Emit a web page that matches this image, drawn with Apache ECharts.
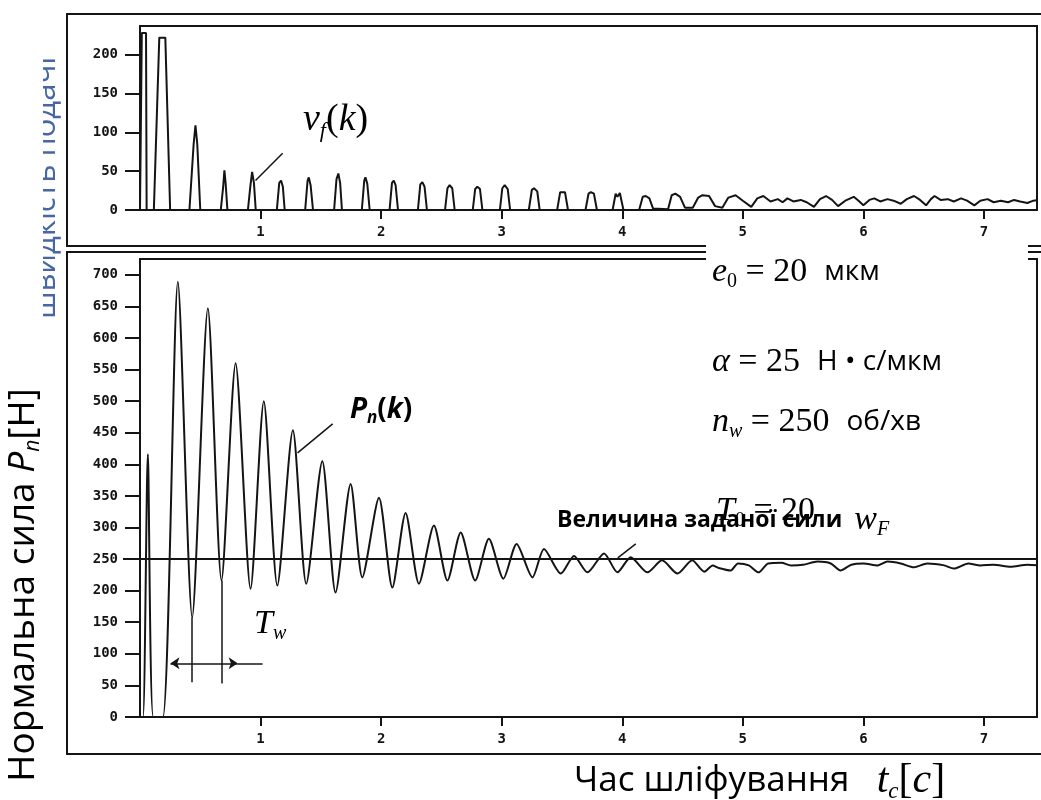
<!doctype html>
<html>
<head>
<meta charset="UTF-8">
<title>Нормальна сила та швидкість подачі</title>
<style>
html, body { margin: 0; padding: 0; background: #fff; }
#chart { width: 1041px; height: 800px; }
</style>
</head>
<body>
<div id="chart"></div>
<script src="https://cdn.jsdelivr.net/npm/echarts@6/dist/echarts.min.js"></script>
<script>
// час [c], швидкість подачі v_f(k)
var feedPoints = [
	[0, 0], [0.01, 0], [0.015, 228], [0.05, 228], [0.055, 0],
	[0.115, 0], [0.16, 222], [0.21, 222], [0.25, 0],
	[0.41, 0], [0.445, 85], [0.46, 109], [0.475, 85], [0.5, 0],
	[0.67, 0], [0.69, 30], [0.7, 51], [0.71, 35], [0.725, 0],
	[0.895, 0], [0.915, 30], [0.93, 49], [0.945, 35], [0.96, 0],
	[1.135, 0], [1.155, 35], [1.17, 38], [1.185, 30], [1.2, 0],
	[1.37, 0], [1.39, 38], [1.4, 42], [1.415, 32], [1.435, 0],
	[1.61, 0], [1.63, 40], [1.645, 47], [1.66, 35], [1.675, 0],
	[1.84, 0], [1.86, 38], [1.87, 42], [1.885, 34], [1.905, 0],
	[2.07, 0], [2.09, 35], [2.105, 38], [2.12, 32], [2.14, 0],
	[2.305, 0], [2.325, 33], [2.342, 36], [2.36, 30], [2.38, 0],
	[2.53, 0], [2.55, 28], [2.568, 32], [2.59, 28], [2.61, 0],
	[2.76, 0], [2.78, 27], [2.798, 30], [2.82, 27], [2.84, 0],
	[2.985, 0], [3.005, 28], [3.025, 32], [3.05, 27], [3.07, 0],
	[3.225, 0], [3.25, 26], [3.268, 28], [3.295, 24], [3.315, 0],
	[3.46, 0], [3.485, 23], [3.525, 23], [3.55, 0],
	[3.695, 0], [3.72, 21], [3.74, 23], [3.765, 21], [3.79, 0],
	[3.92, 0], [3.945, 21], [3.96, 17], [3.98, 22], [4.01, 0],
	[4.14, 0], [4.17, 17], [4.195, 18], [4.225, 15], [4.255, 2],
	[4.38, 1], [4.41, 19], [4.44, 21], [4.48, 17], [4.52, 3],
	[4.585, 3], [4.63, 16], [4.665, 19], [4.72, 18], [4.77, 5], [4.83, 3],
	[4.88, 16], [4.94, 19], [5.0, 12], [5.07, 4], [5.12, 15], [5.17, 18],
	[5.23, 11], [5.29, 14], [5.33, 10], [5.37, 15], [5.42, 11], [5.48, 13],
	[5.53, 10], [5.59, 4], [5.64, 14], [5.69, 18], [5.74, 13], [5.79, 5],
	[5.85, 12], [5.92, 17], [5.96, 12], [6.0, 6], [6.05, 13], [6.09, 15],
	[6.14, 11], [6.2, 14], [6.25, 12], [6.31, 8], [6.36, 14], [6.42, 18],
	[6.47, 13], [6.52, 6], [6.56, 14], [6.59, 18], [6.64, 13], [6.7, 14],
	[6.75, 11], [6.81, 15], [6.86, 12], [6.92, 6], [6.97, 12], [7.03, 14],
	[7.08, 10], [7.14, 12], [7.2, 10], [7.25, 13], [7.3, 11], [7.36, 9],
	[7.41, 12], [7.46, 13]
];

// час [c], нормальна сила P_n(k) [Н]
var forcePoints = [
	[0, 0], [0.025, 0], [0.065, 416], [0.11, 0], [0.19, 0],
	[0.314, 689], [0.433, 158], [0.563, 647], [0.676, 216],
	[0.793, 560], [0.917, 203], [1.027, 500], [1.139, 208],
	[1.268, 454], [1.379, 211], [1.512, 405], [1.622, 197],
	[1.747, 369], [1.844, 221], [1.982, 347], [2.093, 205],
	[2.203, 323], [2.314, 211], [2.438, 303], [2.55, 216],
	[2.66, 292], [2.78, 216], [2.894, 282], [3.014, 219],
	[3.124, 274], [3.255, 221], [3.351, 266], [3.49, 227],
	[3.6, 255], [3.711, 229], [3.849, 259], [3.96, 229],
	[4.07, 253], [4.209, 229], [4.33, 248], [4.458, 227],
	[4.58, 248], [4.68, 230], [4.75, 240], [4.8, 236], [4.9, 232],
	[4.96, 243], [5.05, 240], [5.13, 229], [5.21, 243], [5.32, 244],
	[5.4, 240], [5.5, 241], [5.62, 246], [5.73, 243], [5.81, 232],
	[5.9, 241], [6.0, 243], [6.12, 240], [6.2, 246], [6.31, 243],
	[6.42, 237], [6.53, 243], [6.67, 240], [6.75, 235], [6.87, 243],
	[6.97, 240], [7.08, 241], [7.22, 238], [7.36, 241], [7.46, 240]
];

var setForce = 250;   // величина заданої сили w_F
var feedMax = 237;
var forceMax = 725;
var timeMax = 7.44;

var ink = '#141414';
var tickFont = { color: ink, fontFamily: 'DejaVu Sans Mono', fontWeight: 'bold', fontSize: 14 };
var serif = 'Liberation Serif';
var sans = '"Open Sans", "Noto Sans", sans-serif';

function xAxisFor(gridIndex) {
	return {
		type: 'value', gridIndex: gridIndex, min: 0, max: timeMax, interval: 1,
		axisLine: { lineStyle: { color: ink, width: 2 } },
		axisTick: { length: 9, lineStyle: { color: ink, width: 2 } },
		axisLabel: Object.assign({ margin: 15, showMinLabel: false, showMaxLabel: false }, tickFont),
		splitLine: { show: false }
	};
}

function yAxisFor(gridIndex, max) {
	return {
		type: 'value', gridIndex: gridIndex, min: 0, max: max, interval: 50,
		axisLine: { show: true, lineStyle: { color: ink, width: 2 } },
		axisTick: { show: true, length: 15, lineStyle: { color: ink, width: 2 } },
		axisLabel: Object.assign({ margin: 22, showMaxLabel: false }, tickFont),
		splitLine: { show: false }
	};
}

function pointer(a, b) {
	return [{ coord: a }, { coord: b }];
}

// розмітка формул: курсив, прямий, індекси, одиниці
function mathRich(size, unitSize) {
	var sub = Math.round(size * 0.58);
	return {
		i: { fontFamily: serif, fontStyle: 'italic', fontSize: size, lineHeight: size + 6, color: ink },
		m: { fontFamily: serif, fontSize: size, lineHeight: size + 6, color: ink },
		s: { fontFamily: serif, fontStyle: 'italic', fontSize: sub, lineHeight: sub, verticalAlign: 'bottom', color: ink },
		n: { fontFamily: serif, fontSize: sub, lineHeight: sub, verticalAlign: 'bottom', color: ink },
		u: { fontFamily: sans, fontSize: unitSize, lineHeight: size + 6, color: ink },
		b: { fontFamily: sans, fontWeight: 'bold', fontSize: unitSize, lineHeight: size + 6, color: ink }
	};
}

function label(x, y, text, rich, z) {
	return {
		type: 'text', x: x, y: y, z: z || 120,
		style: { text: text, rich: rich, verticalAlign: 'middle', align: 'left' }
	};
}

var paramRich = mathRich(34, 28);

var option = {
	animation: false,
	backgroundColor: '#fff',
	grid: [
		{ left: 140, right: 4, top: 26, height: 184, show: true, borderColor: ink, borderWidth: 2 },
		{ left: 140, right: 4, top: 259, height: 458, show: true, borderColor: ink, borderWidth: 2 }
	],
	xAxis: [xAxisFor(0), xAxisFor(1)],
	yAxis: [yAxisFor(0, feedMax), yAxisFor(1, forceMax)],
	series: [{
		name: 'v_f(k)',
		type: 'line',
		xAxisIndex: 0,
		yAxisIndex: 0,
		showSymbol: false,
		data: feedPoints,
		lineStyle: { color: ink, width: 2 },
		markLine: {
			silent: true, symbol: 'none', label: { show: false },
			lineStyle: { color: ink, width: 1.5, type: 'solid' },
			data: [pointer([0.958, 38], [1.183, 73])]
		}
	}, {
		name: 'P_n(k)',
		type: 'line',
		xAxisIndex: 1,
		yAxisIndex: 1,
		showSymbol: false,
		smooth: 0.25,
		data: forcePoints,
		lineStyle: { color: ink, width: 2 },
		markLine: {
			silent: true, symbol: 'none', label: { show: false },
			lineStyle: { color: ink, width: 1.5, type: 'solid' },
			data: [
				[{ yAxis: setForce, x: 123, lineStyle: { width: 2 } }, { yAxis: setForce, x: 1037 }],
				pointer([1.307, 418], [1.598, 464]),
				pointer([3.963, 252], [4.112, 274]),
				pointer([0.433, 158], [0.433, 55]),
				pointer([0.676, 216], [0.676, 53]),
				[{ coord: [0.253, 85], symbol: 'arrow', symbolSize: 9 }, { coord: [0.81, 85], symbol: 'arrow', symbolSize: 9 }],
				pointer([0.81, 85], [1.017, 85])
			]
		}
	}],
	graphic: [
		// зовнішні рамки
		{ type: 'rect', z: 40, shape: { x: 67, y: 14, width: 1000, height: 232 }, style: { fill: 'none', stroke: ink, lineWidth: 2 } },
		{ type: 'rect', z: 40, shape: { x: 67, y: 252, width: 1000, height: 502 }, style: { fill: 'none', stroke: ink, lineWidth: 2 } },
		// білі вставки
		{ type: 'rect', z: 100, shape: { x: 706, y: 237, width: 322, height: 238 }, style: { fill: '#fff' } },
		{ type: 'rect', z: 100, shape: { x: 230, y: 590, width: 77, height: 67 }, style: { fill: '#fff' } },
		// обрізаний синій підпис
		{ type: 'text', z: 90, x: 46, y: 188, rotation: Math.PI / 2,
			style: { text: 'швидкість подачі', fill: '#4767a3', fontFamily: sans, fontSize: 31, align: 'center', verticalAlign: 'middle' } },
		{ type: 'rect', z: 95, shape: { x: 0, y: 30, width: 43, height: 320 }, style: { fill: '#fff' } },
		// підписи кривих
		label(303, 120, '{i|v}{s|f}{m|(}{i|k}{m|)}', mathRich(38, 30)),
		label(350, 410, '{p|P}{ps|n}{q|(}{p|k}{q|)}', {
			p: { fontFamily: sans, fontWeight: 'bold', fontStyle: 'italic', fontSize: 28, lineHeight: 34, color: ink },
			ps: { fontFamily: sans, fontWeight: 'bold', fontStyle: 'italic', fontSize: 17, lineHeight: 17, verticalAlign: 'bottom', color: ink },
			q: { fontFamily: sans, fontWeight: 'bold', fontSize: 28, lineHeight: 34, color: ink }
		}),
		label(254, 624, '{i|T}{s|w}', mathRich(34, 28)),
		// параметри
		label(712, 272, '{i|e}{n|0}{m| = 20  }{u|мкм}', paramRich),
		label(712, 362, '{i|α}{m| = 25  }{u|Н • с/мкм}', paramRich),
		label(712, 422, '{i|n}{s|w}{m| = 250  }{u|об/хв}', paramRich),
		label(716, 511, '{i|T}{n|0}{m| = 20}', paramRich),
		label(557, 520, '{b|Величина заданої сили  }{i|w}{s|F}', mathRich(34, 23), 125),
		// назви осей
		{ type: 'text', z: 120, x: 574, y: 781,
			style: {
				text: '{t|Час шліфування   }{i|t}{s|c}{m|[}{i|c}{m|]}', verticalAlign: 'middle',
				rich: {
					t: { fontFamily: sans, fontSize: 35, lineHeight: 44, color: ink },
					i: { fontFamily: serif, fontStyle: 'italic', fontSize: 42, lineHeight: 44, color: ink },
					m: { fontFamily: serif, fontSize: 42, lineHeight: 44, color: ink },
					s: { fontFamily: serif, fontStyle: 'italic', fontSize: 23, lineHeight: 23, verticalAlign: 'bottom', color: ink }
				}
			} },
		{ type: 'text', z: 120, x: 23, y: 585, rotation: Math.PI / 2,
			style: {
				text: '{t|Нормальна сила }{p|P}{ps|n}{t|[Н]}', align: 'center', verticalAlign: 'middle',
				rich: {
					t: { fontFamily: sans, fontSize: 37, lineHeight: 42, color: ink },
					p: { fontFamily: sans, fontStyle: 'italic', fontSize: 37, lineHeight: 42, color: ink },
					ps: { fontFamily: sans, fontStyle: 'italic', fontSize: 21, lineHeight: 21, verticalAlign: 'bottom', color: ink }
				}
			} }
	]
};

var chart = echarts.init(document.getElementById('chart'), null, { renderer: 'canvas' });
chart.setOption(option);
</script>
</body>
</html>
